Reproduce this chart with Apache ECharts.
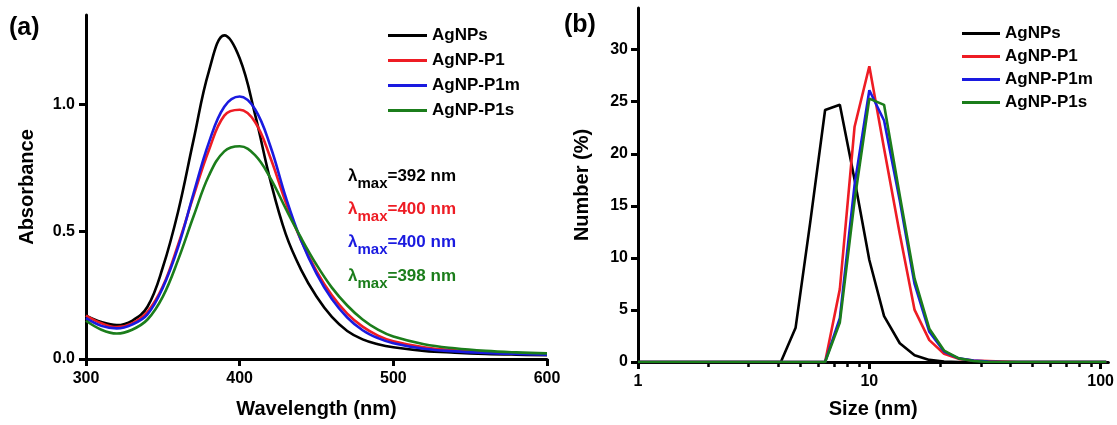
<!DOCTYPE html>
<html><head><meta charset="utf-8">
<script src="https://cdn.jsdelivr.net/npm/echarts@6/dist/echarts.min.js"></script>
<style>html,body{margin:0;padding:0;background:#fff}#c{width:1117px;height:425px}</style>
</head><body><div id="c"></div>
<script>
const names = ['AgNPs', 'AgNP-P1', 'AgNP-P1m', 'AgNP-P1s'];
const colors = ['#000000', '#ee1c24', '#1a1ae0', '#1b7d1b'];
const lambdaMax = ['392', '400', '400', '398'];

// Panel (a): UV-vis absorbance
const wavelengths = [300, 310, 320, 330, 340, 350, 360, 370, 380, 390, 400, 410, 420, 430, 440, 450, 460, 470, 480, 490, 500, 520, 540, 560, 580, 600];
const absAgNPs  = [0.17, 0.145, 0.133, 0.15, 0.205, 0.36, 0.58, 0.86, 1.13, 1.27, 1.18, 0.96, 0.70, 0.49, 0.35, 0.245, 0.165, 0.11, 0.077, 0.058, 0.046, 0.032, 0.025, 0.02, 0.017, 0.015];
const absP1     = [0.17, 0.14, 0.125, 0.14, 0.185, 0.285, 0.45, 0.64, 0.82, 0.955, 0.978, 0.93, 0.79, 0.615, 0.465, 0.345, 0.25, 0.178, 0.127, 0.092, 0.07, 0.046, 0.034, 0.027, 0.022, 0.02];
const absP1m    = [0.16, 0.13, 0.12, 0.135, 0.175, 0.28, 0.44, 0.65, 0.85, 0.99, 1.03, 0.98, 0.835, 0.635, 0.465, 0.335, 0.235, 0.163, 0.113, 0.082, 0.062, 0.04, 0.03, 0.024, 0.02, 0.017];
const absP1s    = [0.15, 0.115, 0.10, 0.115, 0.155, 0.245, 0.39, 0.56, 0.72, 0.815, 0.835, 0.80, 0.71, 0.59, 0.475, 0.37, 0.28, 0.21, 0.155, 0.115, 0.088, 0.058, 0.042, 0.032, 0.026, 0.022];
const absTicks = [0, 0.5, 1.0];
const wlTicks = [300, 400, 500, 600];

// Panel (b): DLS number distribution
const sizes = [1, 4.145, 4.801, 5.56, 6.439, 7.456, 8.635, 10, 11.58, 13.54, 15.69, 18.17, 21.04, 24.36, 28.21, 32.67, 37.84, 43.82, 50.75, 58.77, 68.06, 78.82, 91.28, 105.7];
const numAgNPs = [0, 0, 3.3, 13.5, 24.2, 24.7, 17.5, 9.8, 4.4, 1.8, 0.65, 0.2, 0.05, 0, 0, 0, 0, 0, 0, 0, 0, 0, 0, 0];
const numP1    = [0, 0, 0, 0, 0, 7.0, 22.6, 28.4, 20.5, 12.3, 5.0, 2.1, 0.8, 0.3, 0.15, 0.1, 0.05, 0, 0, 0, 0, 0, 0, 0];
const numP1m   = [0, 0, 0, 0, 0, 4.2, 17.0, 26.1, 23.2, 15.5, 7.5, 2.9, 1.0, 0.35, 0.15, 0.05, 0, 0, 0, 0, 0, 0, 0, 0];
const numP1s   = [0, 0, 0, 0, 0, 3.8, 15.5, 25.3, 24.7, 16.0, 8.0, 3.2, 1.1, 0.35, 0.1, 0, 0, 0, 0, 0, 0, 0, 0, 0];
const sizeTicks = [1, 10, 100];
const sizeMinorTicks = [2, 3, 4, 5, 6, 7, 8, 9, 20, 30, 40, 50, 60, 70, 80, 90];
const numTicks = [0, 5, 10, 15, 20, 25, 30];

const absSeries = [absAgNPs, absP1, absP1m, absP1s];
const numSeries = [numAgNPs, numP1, numP1m, numP1s];

const FONT = 'Liberation Sans, Arial, sans-serif';
const axisLineStyle = { color: '#000', width: 3 };
const tickLabel = { color: '#000', fontFamily: FONT, fontWeight: 'bold', fontSize: 16 };

function mkAxis(extra) {
  return Object.assign({
    axisLine: { show: true, onZero: false, lineStyle: axisLineStyle },
    splitLine: { show: false },
    nameTextStyle: { color: '#000', fontFamily: FONT, fontWeight: 'bold', fontSize: 20 },
    nameLocation: 'middle'
  }, extra);
}
function ticks(vals) {
  return { show: true, inside: false, length: 7, lineStyle: { color: '#000', width: 3 }, customValues: vals };
}

const series = [];
absSeries.forEach((vals, i) => {
  series.push({
    name: names[i], type: 'line', xAxisIndex: 0, yAxisIndex: 0,
    data: wavelengths.map((w, k) => [w, vals[k]]),
    smooth: 0.4, showSymbol: false, symbol: 'none',
    lineStyle: { color: colors[i], width: 2.6 }, itemStyle: { color: colors[i] },
    z: 2 + i
  });
});
numSeries.forEach((vals, i) => {
  series.push({
    name: names[i], type: 'line', xAxisIndex: 1, yAxisIndex: 1,
    data: sizes.map((s, k) => [s, vals[k]]),
    showSymbol: false, symbol: 'none',
    lineStyle: { color: colors[i], width: 2.6 }, itemStyle: { color: colors[i] },
    z: 2 + i
  });
});

const rich = {};
colors.forEach((c, i) => {
  rich['m' + i] = { color: c, fontFamily: FONT, fontWeight: 'bold', fontSize: 17, lineHeight: 18, verticalAlign: 'top' };
  rich['s' + i] = { color: c, fontFamily: FONT, fontWeight: 'bold', fontSize: 15, lineHeight: 32, verticalAlign: 'middle' };
});
const rowTops = [168, 201, 234, 268];
const lambdaTitles = lambdaMax.map((v, i) => ({
  text: '{m' + i + '|λ}{s' + i + '|max}{m' + i + '|=' + v + ' nm}',
  left: 348, top: rowTops[i], padding: 0,
  textStyle: { rich: rich }
}));

const legendCommon = {
  data: names, orient: 'vertical', icon: 'rect', itemHeight: 3, padding: 0,
  textStyle: { color: '#000', fontFamily: FONT, fontWeight: 'bold', fontSize: 17, lineHeight: 19 },
  selectedMode: false
};

const option = {
  backgroundColor: '#fff',
  animation: false,
  color: colors,
  title: [
    { text: '(a)', left: 9, top: 16, padding: 0, textStyle: { fontFamily: FONT, fontWeight: 'bold', fontSize: 25, color: '#000' } },
    { text: '(b)', left: 564, top: 13, padding: 0, textStyle: { fontFamily: FONT, fontWeight: 'bold', fontSize: 25, color: '#000' } }
  ].concat(lambdaTitles),
  legend: [
    Object.assign({}, legendCommon, { left: 388, top: 26, itemWidth: 39, itemGap: 6 }),
    Object.assign({}, legendCommon, { left: 962, top: 24, itemWidth: 38, itemGap: 4 })
  ],
  grid: [
    { left: 86, right: 570, top: 15, bottom: 66, containLabel: false },
    { left: 638, right: 7, top: 8, bottom: 63, containLabel: false },
    { left: 638, right: 7, top: 8, bottom: 63, containLabel: false }
  ],
  xAxis: [
    mkAxis({ gridIndex: 0, type: 'value', min: 300, max: 600, interval: 100, name: 'Wavelength (nm)', nameGap: 40,
      axisTick: ticks(wlTicks),
      axisLabel: Object.assign({}, tickLabel, { margin: 12, customValues: wlTicks }) }),
    mkAxis({ gridIndex: 1, type: 'log', logBase: 10, min: 1, max: 108, name: 'Size (nm)', nameGap: 37,
      axisTick: ticks(sizeTicks),
      axisLabel: Object.assign({}, tickLabel, { margin: 12, customValues: sizeTicks, formatter: v => String(Math.round(v)) }) }),
    { gridIndex: 2, type: 'log', logBase: 10, min: 1, max: 108,
      axisLine: { show: false },
      axisTick: { show: true, inside: false, length: 5, lineStyle: { color: '#000', width: 2.5 }, customValues: sizeMinorTicks },
      axisLabel: { show: false }, splitLine: { show: false } }
  ],
  yAxis: [
    mkAxis({ gridIndex: 0, type: 'value', min: 0, max: 1.35, interval: 0.5, name: 'Absorbance', nameGap: 49,
      axisTick: ticks(absTicks),
      axisLabel: Object.assign({}, tickLabel, { margin: 11, customValues: absTicks, formatter: v => v.toFixed(1) }) }),
    mkAxis({ gridIndex: 1, type: 'value', min: 0, max: 34, interval: 5, name: 'Number (%)', nameGap: 46,
      axisTick: ticks(numTicks),
      axisLabel: Object.assign({}, tickLabel, { margin: 10, customValues: numTicks }) }),
    { gridIndex: 2, type: 'value', min: 0, max: 34, show: false }
  ],
  series: series
};

const chart = echarts.init(document.getElementById('c'), null, { renderer: 'canvas' });
chart.setOption(option);
</script>
</body></html>
